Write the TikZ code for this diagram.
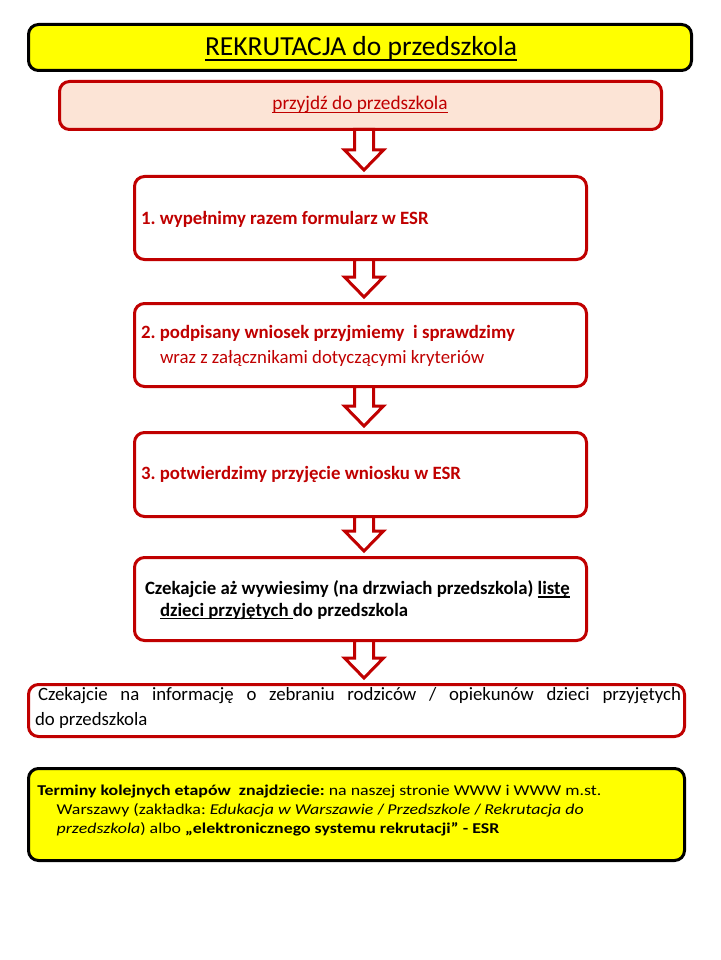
\documentclass[tikz,border=0pt]{standalone}
\usepackage{fontspec}
\setmainfont{Carlito}
\usetikzlibrary{calc}
\definecolor{dred}{HTML}{C00000}
\definecolor{boxred}{HTML}{C00000}
\definecolor{pinkfill}{HTML}{FCE4D6}
\definecolor{yel}{HTML}{FFFF00}
\newcommand\myul[2][-3.4pt]{\setbox0\hbox{#2}\rlap{\rule[#1]{\wd0}{1.4pt}}\box0}
\newcommand\myulthick[1]{\setbox0\hbox{#1}\rlap{\rule[-5.2pt]{\wd0}{2pt}}\box0}
\frenchspacing
\tikzset{
  frame/.style={draw, rounded corners=10pt, line width=3pt, inner sep=0pt, outer sep=0pt, anchor=north west},
  redframe/.style={frame, draw=boxred, fill=white},
  yelframe/.style={frame, draw=black, fill=yel},
  txt/.style={inner sep=0pt, outer sep=0pt, anchor=base west},
  ctxt/.style={inner sep=0pt, outer sep=0pt, anchor=base},
  blockarrow/.style={draw=boxred, line width=3pt, fill=white, line join=miter},
  bigfont/.style={font=\fontsize{18.8}{22}\selectfont},
  smallfont/.style={font=\fontsize{15}{18}\selectfont}
}
\newcommand\hollowarrow[2]{%
  \draw[blockarrow] let \p1=(#1.south), \p2=(#2.north) in
    (\x1-6pt,\y1) -- (\x1-6pt,\y2+26.5pt) -- (\x1-16pt,\y2+26.5pt) --
    (\x1+3.5pt,\y2+6.5pt) -- (\x1+23pt,\y2+26.5pt) -- (\x1+13pt,\y2+26.5pt) --
    (\x1+13pt,\y1) -- cycle;}
\newcommand\wide[1]{\scalebox{1.19}[1]{#1}}
\begin{document}
\begin{tikzpicture}[x=1pt,y=-1pt]
\useasboundingbox[fill=white] (0,0) rectangle (720,960);
% boxes
\node[yelframe, minimum width=663pt, minimum height=46pt] (title) at (28.5,24.5) {};
\node[redframe, fill=pinkfill, minimum width=602pt, minimum height=48pt] (start) at (59.5,81.5) {};
\node[redframe, minimum width=452pt, minimum height=83pt] (s1) at (134.5,176.5) {};
\node[redframe, minimum width=452pt, minimum height=83pt] (s2) at (134.5,303.5) {};
\node[redframe, minimum width=452pt, minimum height=84pt] (s3) at (134.5,432.5) {};
\node[redframe, minimum width=452pt, minimum height=83pt] (s4) at (134.5,557.5) {};
\node[redframe, minimum width=656pt, minimum height=52pt] (s5) at (28.5,684.5) {};
\node[yelframe, minimum width=656pt, minimum height=92pt] (info) at (28.5,768.5) {};
% arrows
\hollowarrow{start}{s1}
\hollowarrow{s1}{s2}
\hollowarrow{s2}{s3}
\hollowarrow{s3}{s4}
\hollowarrow{s4}{s5}
% texts
\node[ctxt, font=\fontsize{27.5}{32}\selectfont] (tt) at (361,55.5) {\myulthick{REKRUTACJA do przedszkola}};
\node[ctxt, font=\fontsize{19.3}{23}\selectfont, text=dred] (t0) at (360,110) {\myul[-3.2pt]{przyjdź do przedszkola}};
\node[txt, bigfont, text=dred] (t1) at (141,224) {\textbf{1. wypełnimy razem formularz w ESR}};
\node[txt, bigfont, text=dred] (t2a) at (141,338.3) {\textbf{2. podpisany wniosek przyjmiemy\ \ i sprawdzimy}};
\node[txt, bigfont, text=dred] (t2b) at (160,363.3) {wraz z załącznikami dotyczącymi kryteriów};
\node[txt, bigfont, text=dred] (t3) at (141,479) {\textbf{3. potwierdzimy przyjęcie wniosku w ESR}};
\node[txt, bigfont] (t4a) at (145,594.3) {\textbf{Czekajcie aż wywiesimy (na drzwiach przedszkola) \myul{listę}}};
\node[txt, bigfont] (t4b) at (160,616) {\textbf{\myul{dzieci przyjętych\ }do przedszkola}};
\node[txt, bigfont] (t5a) at (38,700.7) {\makebox[643pt][s]{Czekajcie na informację o zebraniu rodziców / opiekunów dzieci przyjętych}};
\node[txt, bigfont] (t5b) at (35,725) {do przedszkola};
\node[txt, smallfont] (t6a) at (37.3,795.3) {\wide{\textbf{Terminy kolejnych etapów\ \ znajdziecie:} na naszej stronie WWW i WWW m.st.}};
\node[txt, smallfont] (t6b) at (56.7,814.5) {\wide{Warszawy (zakładka: \textit{Edukacja w Warszawie} /\,\textit{Przedszkole} /\,\textit{Rekrutacja do}}};
\node[txt, smallfont] (t6c) at (56.7,833.5) {\wide{\textit{przedszkola}) albo \textbf{„elektronicznego systemu rekrutacji” - ESR}}};
\end{tikzpicture}
\end{document}
